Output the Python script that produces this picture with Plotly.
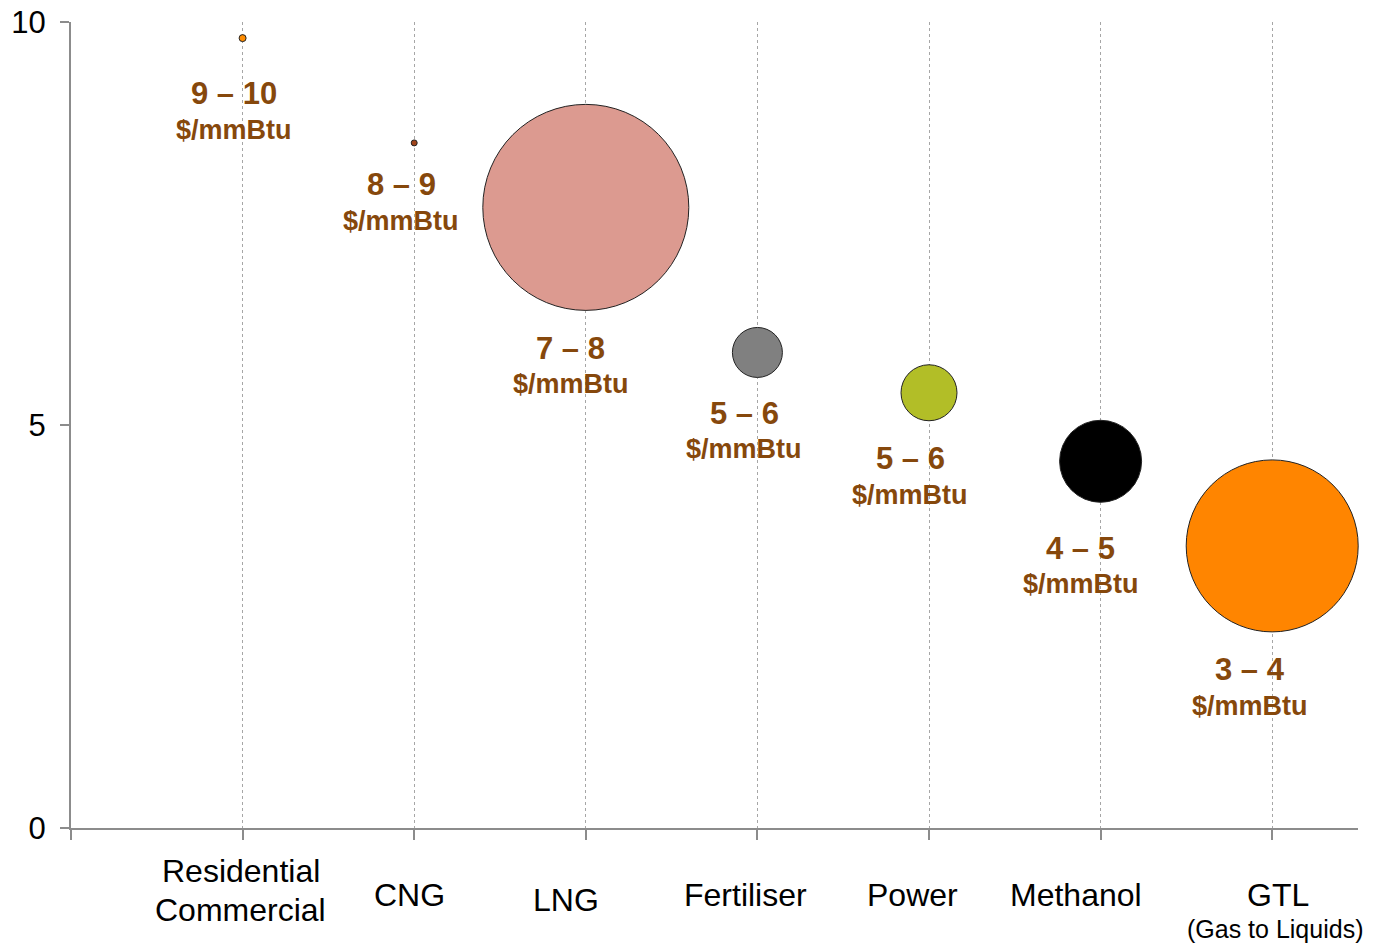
import plotly.graph_objects as go

# ----------------------------------
# DATA
# ----------------------------------

categories = ["Residential<br>Commercial", "CNG", "LNG", "Fertiliser",
              "Power", "Methanol", "GTL"]
x_pos = [1, 2, 3, 4, 5, 6, 7]
price_mid = [9.8, 8.5, 7.7, 5.9, 5.4, 4.55, 3.5]
bubble_size = [7, 6, 206, 50, 56, 82, 172]
price_range = ["9 – 10", "8 – 9", "7 – 8", "5 – 6", "5 – 6", "4 – 5", "3 – 4"]
colors = ["#FF8C00", "#A0441A", "#DC9A90", "#808080", "#B2BE27",
          "#000000", "#FF8500"]

# ----------------------------------
# STYLE
# ----------------------------------

FONT = "Arial, Liberation Sans, sans-serif"
LABEL_COLOR = "#86480C"
AXIS_COLOR = "#8C8C8C"

label_dx = [-9, -13, -15, -13, -19, -20, -22]
label_gap = [52, 39, 38, 36, 38, 46, 38]
cat_dx = [-2, -5, -20, -12, -17, -25, 6]
cat_dy = [-62, -67, -72, -67, -67, -67, -67]

fig = go.Figure()

fig.add_trace(go.Scatter(
    x=x_pos,
    y=price_mid,
    mode="markers",
    marker=dict(
        size=bubble_size,
        sizemode="diameter",
        color=colors,
        opacity=1,
        line=dict(color="#222222", width=1)
    ),
    cliponaxis=False,
    showlegend=False,
    hoverinfo="skip"
))

# price labels under each bubble (two lines)
for i in range(len(x_pos)):
    shift = -(bubble_size[i] / 2 + label_gap[i])
    fig.add_annotation(
        x=x_pos[i], y=price_mid[i], xref="x", yref="y",
        text=f"<b>{price_range[i]}</b>",
        showarrow=False, xanchor="center", yanchor="middle",
        xshift=label_dx[i], yshift=shift,
        font=dict(family=FONT, size=31, color=LABEL_COLOR)
    )
    fig.add_annotation(
        x=x_pos[i], y=price_mid[i], xref="x", yref="y",
        text="<b>$/mmBtu</b>",
        showarrow=False, xanchor="center", yanchor="middle",
        xshift=label_dx[i], yshift=shift - 36,
        font=dict(family=FONT, size=27, color=LABEL_COLOR)
    )

# category labels along the x axis (one annotation per line)
for i in range(len(x_pos)):
    lines = categories[i].split("<br>")
    for k, line in enumerate(lines):
        offset = (k - (len(lines) - 1) / 2) * 39
        fig.add_annotation(
            x=x_pos[i],
            y=0,
            xref="x",
            yref="paper",
            text=line,
            showarrow=False,
            xanchor="center",
            yanchor="middle",
            xshift=cat_dx[i],
            yshift=cat_dy[i] - offset,
            font=dict(family=FONT, size=32, color="#000000")
        )

fig.add_annotation(
    x=x_pos[-1],
    y=0,
    xref="x",
    yref="paper",
    text="(Gas to Liquids)",
    showarrow=False,
    xanchor="center",
    yanchor="middle",
    xshift=3,
    yshift=-101,
    font=dict(family=FONT, size=25, color="#000000")
)

fig.update_xaxes(
    range=[0, 7.5],
    tickvals=[0, 1, 2, 3, 4, 5, 6, 7],
    showticklabels=False,
    ticks="outside",
    ticklen=10,
    tickcolor=AXIS_COLOR,
    tickwidth=2,
    showline=True,
    linecolor=AXIS_COLOR,
    linewidth=2,
    showgrid=True,
    gridcolor="#A6A6A6",
    griddash="dot",
    gridwidth=1,
    zeroline=False,
    automargin=False
)

fig.update_yaxes(
    range=[0, 10],
    tickvals=[0, 5, 10],
    ticks="outside",
    ticklen=9,
    tickcolor=AXIS_COLOR,
    tickwidth=2,
    ticklabelstandoff=8,
    ticklabeloverflow="allow",
    showline=True,
    linecolor=AXIS_COLOR,
    linewidth=2,
    showgrid=False,
    zeroline=False,
    automargin=False,
    tickfont=dict(family=FONT, size=31, color="#000000")
)

fig.update_layout(
    width=1373,
    height=943,
    margin=dict(l=71, r=15, t=22, b=115),
    plot_bgcolor="white",
    paper_bgcolor="white",
    font=dict(family=FONT)
)

# drop the default 8px page margin so the figure fills the window
fig.write_html(
    "out.html",
    config={"displayModeBar": False},
    post_script="document.body.style.margin = '0';"
)
